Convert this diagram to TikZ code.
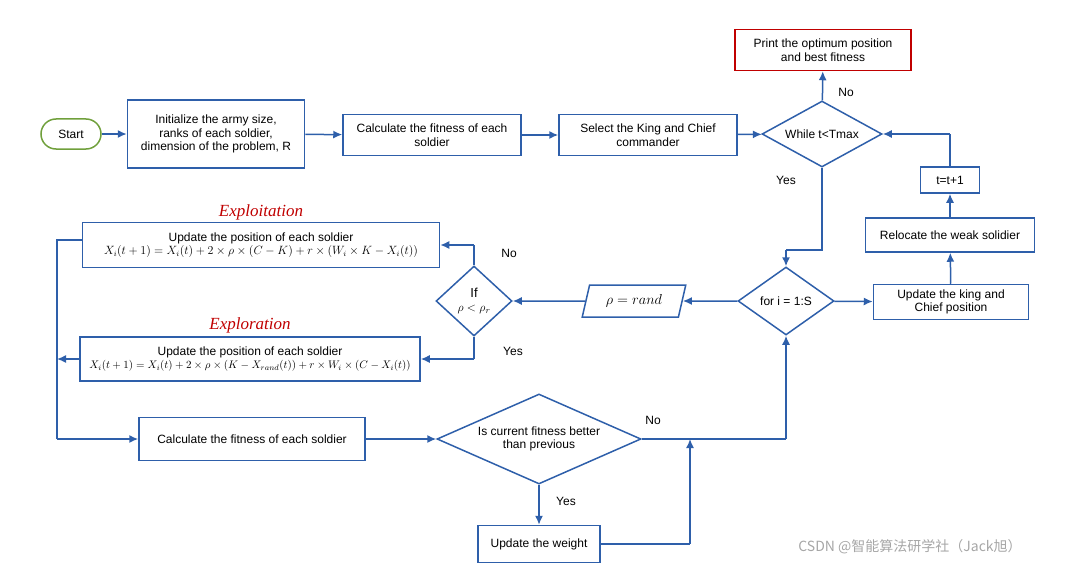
\documentclass[tikz,border=0pt]{standalone}
\usepackage{fontspec}
\setmainfont{Liberation Sans}
\newfontfamily\serifit{Liberation Serif}
\newfontfamily\cjk{Noto Sans CJK SC}
\usetikzlibrary{shapes.geometric, arrows.meta}
\definecolor{lineblue}{RGB}{46,95,170}
\definecolor{startgreen}{RGB}{112,160,60}
\definecolor{boxred}{RGB}{192,0,0}
\begin{document}
\begin{tikzpicture}[x=1pt,y=-1pt,
  every node/.style={font=\fontsize{12}{13.5}\selectfont},
  box/.style={draw=lineblue, line width=1.5pt, align=center, inner sep=2pt},
  dia/.style={draw=lineblue, line width=1.5pt, diamond, aspect=1.8, align=center, inner sep=1pt},
  arr/.style={draw=lineblue, line width=1.5pt, -{Latex[length=9pt,width=8pt]}},
  ln/.style={draw=lineblue, line width=1.5pt},
  lab/.style={font=\fontsize{12}{13.5}\selectfont},
  ttl/.style={text=boxred, font=\fontsize{17}{19}\selectfont\serifit\itshape}]
\useasboundingbox (0,0) rectangle (1075,567);

\node[draw=startgreen, line width=1.5pt, rounded corners=15pt, minimum width=60pt, minimum height=30pt] (start) at (71,134) {Start};
\node[box, minimum width=177pt, minimum height=68pt] (init) at (216,134) {Initialize the army size,\\ranks of each soldier,\\dimension of the problem, R};
\node[box, minimum width=178pt, minimum height=41pt] (calc) at (432,135) {Calculate the fitness of each\\soldier};
\node[box, minimum width=178pt, minimum height=41pt] (king) at (648,135) {Select the King and Chief\\commander};
\node[dia, minimum width=120pt, minimum height=66pt] (while) at (822,134) {While t<Tmax};
\node[box, draw=boxred, minimum width=176pt, minimum height=41pt] (print) at (823,50) {Print the optimum position\\and best fitness};
\node[box, minimum width=59pt, minimum height=26pt] (tinc) at (950,180) {t=t+1};
\node[box, minimum width=169pt, minimum height=34pt] (reloc) at (950,235) {Relocate the weak solidier};
\node[box, minimum width=155pt, minimum height=35pt] (upk) at (951,302) {Update the king and\\Chief position};
\node[dia, minimum width=96pt, minimum height=68pt] (for) at (786,301) {for i = 1:S};
\node[draw=lineblue, line width=1.5pt, trapezium, trapezium left angle=72, trapezium right angle=108, trapezium stretches=true, minimum width=104pt, minimum height=32pt, inner sep=1pt, font=\fontsize{14}{16}\selectfont] (rho) at (634,301) {$\rho = rand$};
\node[dia, minimum width=76pt, minimum height=70pt, aspect=1.1, font=\fontsize{13}{14}\selectfont] (ifd) at (474,301) {If\\$\rho < \rho_r$};
\node[box, minimum width=357pt, minimum height=45pt, inner sep=1pt] (expt) at (261,245) {Update the position of each soldier\\{\fontsize{11.5}{13}\selectfont $X_i(t+1)=X_i(t)+2\times\rho\times(C-K)+r\times(W_i\times K-X_i(t))$}};
\node[ttl] (exptt) at (261,212) {Exploitation};
\node[box, minimum width=340pt, minimum height=44pt, inner sep=1pt] (expr) at (250,359) {Update the position of each soldier\\{\fontsize{11}{12}\selectfont $X_i(t+1)=X_i(t)+2\times\rho\times(K-X_{rand}(t))+r\times W_i\times(C-X_i(t))$}};
\node[ttl] (exprt) at (250,325) {Exploration};
\node[box, minimum width=226pt, minimum height=43pt] (calc2) at (252,439) {Calculate the fitness of each soldier};
\node[dia, minimum width=204pt, minimum height=90pt, aspect=2.3] (better) at (539,439) {Is current fitness better\\than previous};
\node[box, minimum width=122pt, minimum height=37pt] (wt) at (539,544) {Update the weight};

\coordinate (c1) at (822,250);
\coordinate (c2) at (786,250);
\coordinate (c3) at (950,134);
\coordinate (c4) at (474,245);
\coordinate (c5) at (474,359);
\coordinate (c6) at (57,240);
\coordinate (c7) at (57,439);
\coordinate (c8) at (57,359);
\coordinate (c9) at (786,439);
\coordinate (c10) at (690,544);
\coordinate (c11) at (690,439);

\draw[arr] (start) -- (init);
\draw[arr] (init) -- (calc);
\draw[arr] (calc) -- (king);
\draw[arr] (king) -- (while);
\draw[arr] (while) -- (print);
\draw[ln] (while.south) -- (c1) -- (c2);
\draw[arr] (c2) -- (for.north);
\draw[arr] (for) -- (upk);
\draw[arr] (upk) -- (reloc);
\draw[arr] (reloc) -- (tinc);
\draw[ln] (tinc) -- (c3);
\draw[arr] (c3) -- (while.east);
\draw[arr] (for) -- (rho);
\draw[arr] (rho) -- (ifd);
\draw[ln] (ifd.north) -- (c4);
\draw[arr] (c4) -- (expt.east |- c4);
\draw[ln] (ifd.south) -- (c5);
\draw[arr] (c5) -- (expr.east |- c5);
\draw[ln] (expt.west |- c6) -- (c6) -- (c7);
\draw[arr] (c7) -- (calc2);
\draw[arr] (expr.west |- c8) -- (c8);
\draw[arr] (calc2) -- (better);
\draw[ln] (better.east) -- (c9);
\draw[arr] (c9) -- (for.south);
\draw[arr] (better) -- (wt);
\draw[ln] (wt.east |- c10) -- (c10);
\draw[arr] (c10) -- (c11);

\node[lab] at (846,92) {No};
\node[lab] at (786,180) {Yes};
\node[lab] at (509,253) {No};
\node[lab] at (513,351) {Yes};
\node[lab] at (653,420) {No};
\node[lab] at (566,501) {Yes};
\node[text=gray!70, font=\fontsize{14}{16}\selectfont\cjk] (wm) at (910,547) {CSDN @智能算法研学社（Jack旭）};
\end{tikzpicture}
\end{document}
